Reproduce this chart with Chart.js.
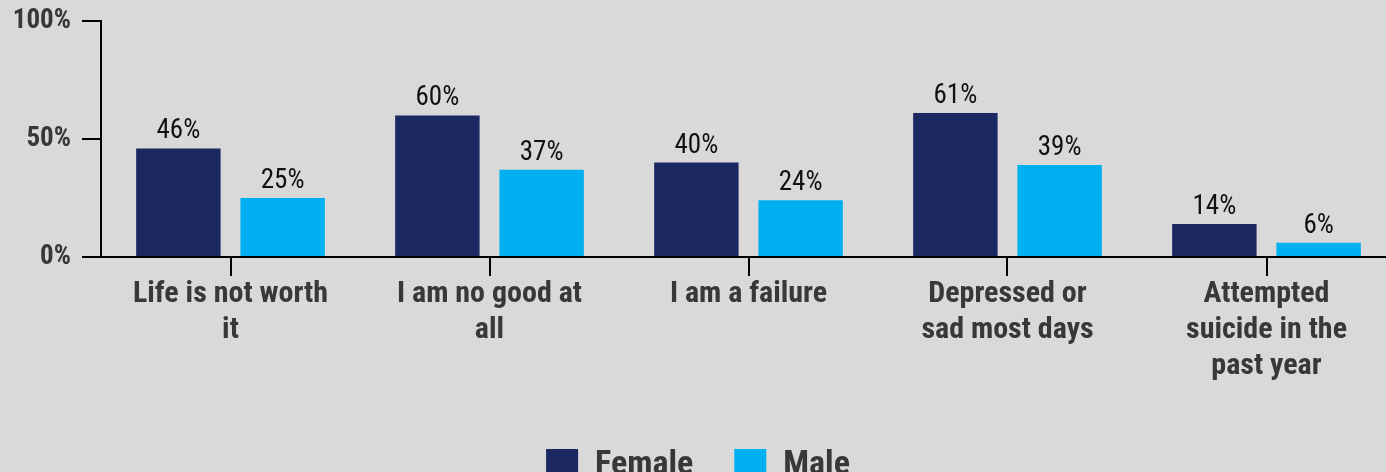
<!DOCTYPE html>
<html>
<head>
<meta charset="utf-8">
<script src="https://cdn.jsdelivr.net/npm/chart.js@4.4.1/dist/chart.umd.min.js"></script>
<style>
  html, body { margin: 0; padding: 0; background: #d9d9d9; overflow: hidden; }
</style>
</head>
<body>
<canvas id="chart" width="1396" height="492"></canvas>
<script>
const categories = [
  ['Life is not worth', 'it'],
  ['I am no good at', 'all'],
  'I am a failure',
  ['Depressed or', 'sad most days'],
  ['Attempted', 'suicide in the', 'past year']
];
const female = [46, 60, 40, 61, 14];
const male = [25, 37, 24, 39, 6];
const yTicks = [0, 50, 100];

const FONT = "'Roboto Condensed', Roboto, sans-serif";
const TEXT = '#383838';

// Werte ueber den Balken
const barLabels = {
  id: 'barLabels',
  afterDatasetsDraw(chart) {
    const ctx = chart.ctx;
    ctx.save();
    ctx.font = 'condensed 400 27px ' + FONT;
    ctx.fillStyle = '#111';
    ctx.textAlign = 'center';
    ctx.textBaseline = 'alphabetic';
    chart.data.datasets.forEach((ds, i) => {
      chart.getDatasetMeta(i).data.forEach((bar, j) => {
        ctx.fillText(ds.data[j] + '%', bar.x, bar.y - 10);
      });
    });
    ctx.restore();
  }
};

new Chart(document.getElementById('chart'), {
  type: 'bar',
  data: {
    labels: categories,
    datasets: [
      { label: 'Female', data: female, backgroundColor: '#1b2862' },
      { label: 'Male', data: male, backgroundColor: '#00b0f0' }
    ]
  },
  options: {
    responsive: false,
    animation: false,
    categoryPercentage: 0.805,
    barPercentage: 0.81,
    layout: { padding: { top: 21, left: 0, right: 0, bottom: 0 } },
    plugins: {
      tooltip: { enabled: false },
      legend: {
        position: 'bottom',
        labels: {
          boxWidth: 32, boxHeight: 32, padding: 41,
          color: TEXT,
          font: { family: FONT, size: 34, weight: 'condensed bold' }
        }
      }
    },
    scales: {
      x: {
        grid: { offset: false, drawOnChartArea: false, tickLength: 19, color: '#000', lineWidth: 2 },
        border: { color: '#000', width: 2 },
        ticks: {
          color: TEXT, padding: 0, maxRotation: 0, autoSkip: false,
          font: { family: FONT, size: 30, weight: 'condensed bold' }
        },
        afterFit(s) { s.height = 150; }
      },
      y: {
        min: 0, max: 100,
        afterBuildTicks(s) { s.ticks = yTicks.map(v => ({ value: v })); },
        grid: { drawOnChartArea: false, tickLength: 19, color: '#000', lineWidth: 2 },
        border: { color: '#000', width: 2 },
        ticks: {
          color: TEXT, padding: 11,
          font: { family: FONT, size: 27, weight: 'condensed bold' },
          callback: v => v + '%'
        },
        afterFit(s) { s.width = 101; s.paddingTop = 0; }
      }
    }
  },
  plugins: [barLabels]
});
</script>
</body>
</html>
